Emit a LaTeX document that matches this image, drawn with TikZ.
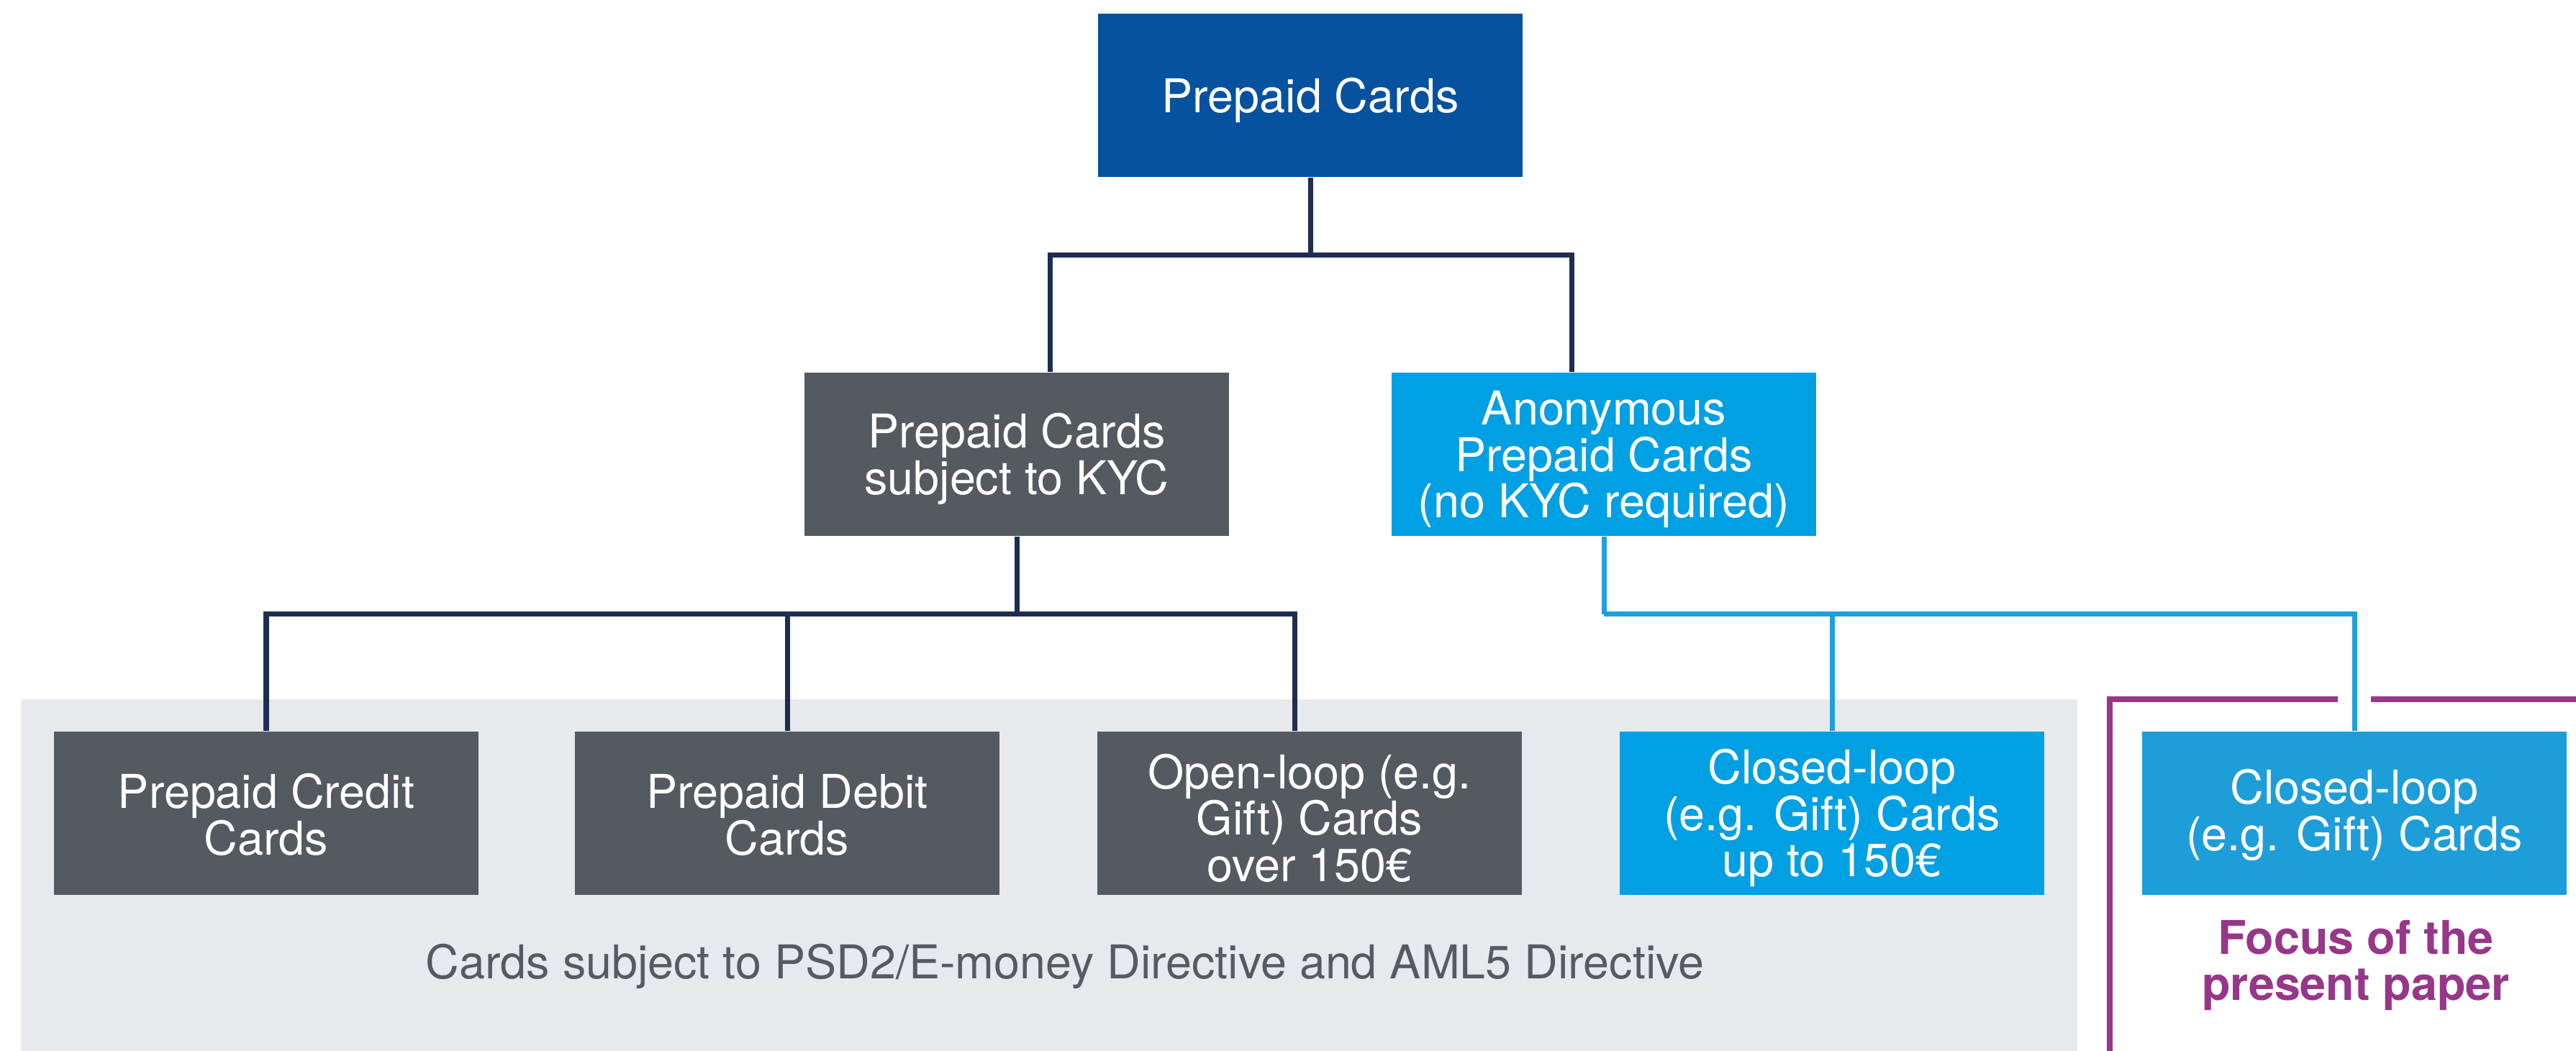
\documentclass[tikz,border=0pt]{standalone}
\usepackage{fontspec}
\setmainfont{TeX Gyre Heros}
\usepackage{xcolor}
\usepackage{tikz}
\usetikzlibrary{calc}
\definecolor{topblue}{HTML}{06529F}
\definecolor{kycgray}{HTML}{545A60}
\definecolor{anonblue}{HTML}{00A0E3}
\definecolor{focusblue}{HTML}{1E9ED9}
\definecolor{navyline}{HTML}{1E2D52}
\definecolor{cyanline}{HTML}{1EA0DC}
\definecolor{focuspurple}{HTML}{973789}
\definecolor{bggray}{HTML}{E8E9ED}
\definecolor{bgtext}{HTML}{565B61}
\newcommand{\capgap}[1][17.5pt]{\rule{0pt}{#1}}% pushes the first line down a little
\tikzstyle{card}=[rectangle, minimum width=5.9cm, minimum height=2.27cm,% box of one card type
text=white, align=center, inner sep=0pt, font=\fontsize{18.4}{18.4}\selectfont]
\tikzstyle{navytree}=[draw=navyline, line width=2pt]
\tikzstyle{cyantree}=[draw=cyanline, line width=2pt]
\tikzstyle{bracket}=[draw=focuspurple, line width=2.3pt]

\begin{document}
\begin{tikzpicture}
\useasboundingbox (0,0) rectangle (35.80,-14.61);
% background of the directive cards
\fill[bggray] (0.29,-9.72) rectangle (28.87,-14.61);
\node[card, fill=topblue] (top) at (18.21,-1.325) {\capgap Prepaid Cards};
\node[card, fill=kycgray] (kyc) at (14.13,-6.315) {\capgap Prepaid Cards\\subject to KYC};
\node[card, fill=anonblue] (anon) at (22.29,-6.315) {\capgap Anonymous\\Prepaid Cards\\(no KYC required)};
\node[card, fill=kycgray] (credit) at (3.70,-11.305) {\capgap[15pt]Prepaid Credit\\Cards};
\node[card, fill=kycgray] (debit) at (10.94,-11.305) {\capgap[15pt]Prepaid Debit\\Cards};
\node[card, fill=kycgray] (open) at (18.20,-11.305) {\capgap Open-loop (e.g.\\Gift) Cards\\over 150€};
\node[card, fill=anonblue] (closedlow) at (25.46,-11.305) {\capgap Closed-loop\\(e.g. Gift) Cards\\up to 150€};
\node[card, fill=focusblue] (closed) at (32.72,-11.305) {\capgap[15pt]Closed-loop\\(e.g. Gift) Cards};
\node[text=bgtext, font=\fontsize{18.4}{18.4}\selectfont] (psd) at (14.80,-13.43)
  {Cards subject to PSD2/E-money Directive and AML5 Directive};
\node[text=focuspurple, align=center, font=\fontsize{18.4}{18.4}\selectfont\bfseries] (focus) at (32.74,-13.42)
  {Focus of the\\present paper};
% tree connectors
\draw[navytree] (top.south) -- ++(0,-1.08) coordinate (bus1);
\draw[navytree] ([xshift=0.46cm]kyc.north) |- (bus1) -| ([xshift=-0.45cm]anon.north);
\draw[navytree] (kyc.south) -- ++(0,-1.08) coordinate (bus2);
\draw[navytree] (credit.north) |- (bus2) -| ([xshift=-0.21cm]open.north);
\draw[navytree] (debit.north) -- (debit.north |- bus2);
\draw[cyantree] (anon.south) -- ++(0,-1.08) coordinate (bus3);
\draw[cyantree] (bus3) -| (closed.north);
\draw[cyantree] (closedlow.north) -- (closedlow.north |- bus3);
% bracket round the focus
\coordinate (gapl) at (32.49,-9.72);
\coordinate (gapr) at (32.95,-9.72);
\coordinate (brbot) at (29.32,-14.61);
\coordinate (brend) at (35.80,-9.72);
\draw[bracket] (gapl) -| (brbot);
\draw[bracket] (gapr) -- (brend);
\end{tikzpicture}
\end{document}
